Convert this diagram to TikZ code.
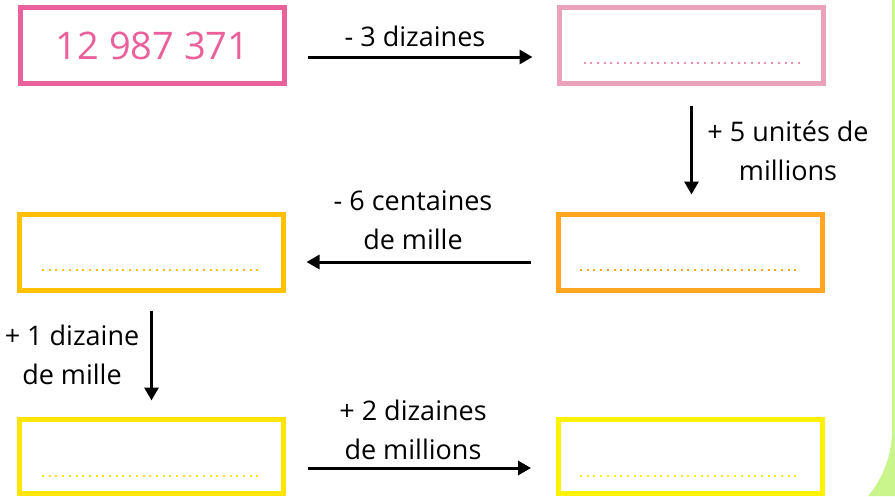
\documentclass[tikz,border=0pt]{standalone}
\usepackage{fontspec}
\setmainfont{Open Sans}
\usetikzlibrary{arrows.meta}
\definecolor{cpink}{HTML}{E9609B}
\definecolor{clpink}{HTML}{E9A2B9}
\definecolor{cdpink}{HTML}{EE8FB0}
\definecolor{corange}{HTML}{FFA621}
\definecolor{cgold}{HTML}{FFC000}
\definecolor{cyel}{HTML}{FFE500}
\definecolor{cyel2}{HTML}{FFF200}
\definecolor{cgreen}{HTML}{C9F58C}
\tikzset{
  box/.style={draw=#1, line width=5pt, minimum width=264pt, minimum height=76pt, inner sep=0pt},
  dots/.style={draw=#1, line width=2pt, dash pattern=on 2pt off 4.7pt},
  arr/.style={line width=3pt, -{Triangle[length=13pt,width=14pt]}},
  lbl/.style={font=\fontsize{27}{39}\selectfont, align=center, inner sep=0pt}
}
\begin{document}
\begin{tikzpicture}[x=1pt,y=-1pt]
\useasboundingbox (0,0) rectangle (895,496);
\fill[cgreen] (892,0) -- (892,430) arc[start angle=0,end angle=-40,radius=103pt] -- (895,496) -- (895,0) -- cycle;
% boxes
\node[box=cpink, text=cpink, font=\fontsize{38}{40}\selectfont] (b1) at (152.5,45.5) {12 987 371};
\node[box=clpink] (b2) at (691.5,45.5) {};
\node[box=corange] (b3) at (690,252.5) {};
\node[box=cgold] (b4) at (151.5,252.5) {};
\node[box=cyel, minimum height=74pt] (b5) at (151.5,456.5) {};
\node[box=cyel2, minimum height=74pt] (b6) at (690,456.5) {};
% dotted answer lines
\draw[dots=cdpink] ([shift={(-108,17.5)}]b2.center) -- ([shift={(110,17.5)}]b2.center);
\draw[dots=corange] ([shift={(-110,17.5)}]b3.center) -- ([shift={(108,17.5)}]b3.center);
\draw[dots=cgold] ([shift={(-109.5,17.5)}]b4.center) -- ([shift={(109,17.5)}]b4.center);
\draw[dots=cyel] ([shift={(-109.5,19.5)}]b5.center) -- ([shift={(109,19.5)}]b5.center);
\draw[dots=cyel2] ([shift={(-110,19.5)}]b6.center) -- ([shift={(108,19.5)}]b6.center);
% arrows
\draw[arr, shorten <=20.5pt, shorten >=24.5pt] ([shift={(0,11.5)}]b1.east) -- ([shift={(0,11.5)}]b2.west);
\draw[arr, shorten <=19.5pt, shorten >=17.5pt] (b2.south) -- (b2.south |- b3.north);
\draw[arr, shorten <=24.5pt, shorten >=20.5pt] ([shift={(0,9.5)}]b3.west) -- ([shift={(0,9.5)}]b4.east);
\draw[arr, shorten <=17.5pt, shorten >=16.5pt] (b4.south) -- (b4.south |- b5.north);
\draw[arr, shorten <=21.5pt, shorten >=24.5pt] ([shift={(0,11.5)}]b5.east) -- ([shift={(0,11.5)}]b6.west);
% labels
\node[lbl] (l1) at (415,36) {- 3 dizaines};
\node[lbl] (l2) at (788,151) {+ 5 unités de\\millions};
\node[lbl] (l3) at (413,220) {- 6 centaines\\de mille};
\node[lbl] (l4) at (72,355) {+ 1 dizaine\\de mille};
\node[lbl] (l5) at (413,430) {+ 2 dizaines\\de millions};
\end{tikzpicture}
\end{document}
